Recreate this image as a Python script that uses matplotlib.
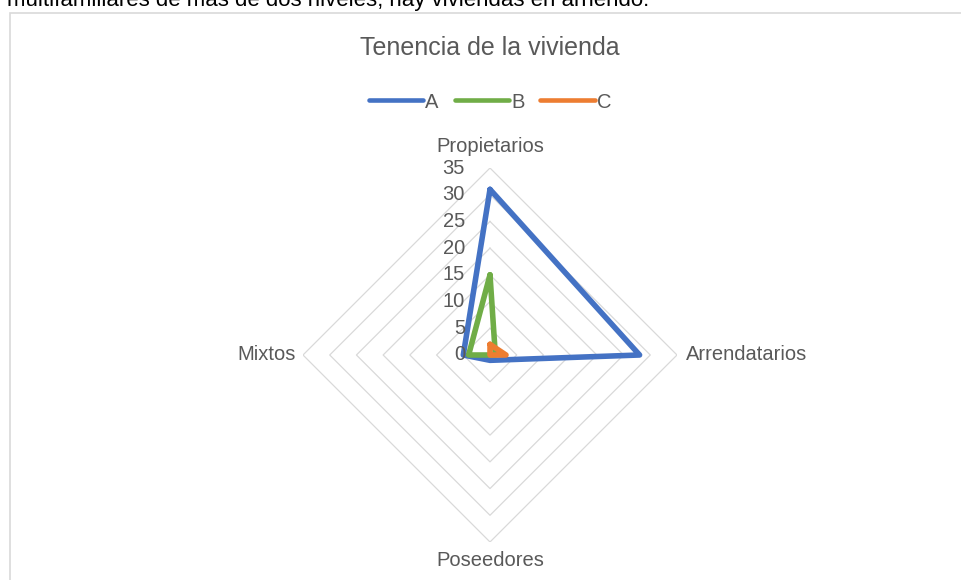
import numpy as np
import matplotlib
matplotlib.use("Agg")
import matplotlib.pyplot as plt
from matplotlib.lines import Line2D
from matplotlib.patches import Rectangle
from matplotlib.transforms import offset_copy

categories = ["Propietarios", "Arrendatarios", "Poseedores", "Mixtos"]
seriesA = [31, 28, 1, 5]
seriesB = [15, 1, 0, 4]
seriesC = [2, 3, 0, 0]
seriesNames = ["A", "B", "C"]
gridLevels = [5, 10, 15, 20, 25, 30, 35]
tickLevels = [0, 5, 10, 15, 20, 25, 30, 35]

colors = ["#4472C4", "#70AD47", "#ED7D31"]
textGray = "#595959"
gridGray = "#D9D9D9"

plt.rcParams["font.family"] = ["Liberation Sans", "DejaVu Sans"]

W, H = 961, 580
fig = plt.figure(figsize=(W / 100, H / 100), dpi=100)

# cut-off sentence above the chart
fig.text(7 / W, 1 - 6 / H, "multifamiliares de más de dos niveles, hay viviendas en arriendo.",
         fontsize=16, color="black", va="baseline", ha="left")

# chart border (only left and top visible)
fig.patches.append(Rectangle((9.5 / W, -0.1), 1.2, 1 - 13 / H + 0.1,
                             transform=fig.transFigure, fill=False,
                             edgecolor=gridGray, linewidth=1.2))

cx, cy, R = 490, 355, 187
ax = fig.add_axes([(cx - R) / W, (H - cy - R) / H, 2 * R / W, 2 * R / H],
                  projection="polar")
ax.set_theta_offset(np.pi / 2)
ax.set_theta_direction(-1)
ax.set_ylim(0, 35)
ax.grid(False)
ax.spines["polar"].set_visible(False)
ax.set_xticks([])
ax.set_yticks([])
ax.patch.set_alpha(0)

angles = np.linspace(0, 2 * np.pi, len(categories), endpoint=False)
closed = np.append(angles, angles[0])

for lvl in gridLevels:
    ax.plot(closed, [lvl] * len(closed), color=gridGray, lw=0.9, zorder=1)

for vals, col, name in zip([seriesA, seriesB, seriesC], colors, seriesNames):
    ax.plot(closed, list(vals) + [vals[0]], color=col, lw=4,
            solid_joinstyle="round", solid_capstyle="round", zorder=3, label=name)

# radial tick labels to the left of the top axis
for t in tickLevels:
    ax.text(0, t, str(t), transform=offset_copy(ax.transData, fig=fig, x=-25, y=0, units="dots"),
            ha="right", va="center", fontsize=14.5, color=textGray, zorder=4)

# category labels
offsets = [(0, 22, "center", "center"), (9, 0, "left", "center"),
           (0, -19, "center", "center"), (-7, 0, "right", "center")]
for ang, cat, (dx, dy, ha, va) in zip(angles, categories, offsets):
    ax.text(ang, 35, cat, transform=offset_copy(ax.transData, fig=fig, x=dx, y=dy, units="dots"),
            ha=ha, va=va, fontsize=14.5, color=textGray)

fig.text(cx / W, 1 - 48 / H, "Tenencia de la vivienda", ha="center", va="center",
         fontsize=18, color=textGray)

handles = [Line2D([], [], color=c, lw=3.3, solid_capstyle="round") for c in colors]
leg = fig.legend(handles, seriesNames, loc="center", bbox_to_anchor=(cx / W, 1 - 102 / H),
                 ncol=3, frameon=False, fontsize=14.5, handlelength=2.7,
                 handletextpad=0.1, columnspacing=0.8)
for t in leg.get_texts():
    t.set_color(textGray)

fig.savefig("out.png", dpi=100)
